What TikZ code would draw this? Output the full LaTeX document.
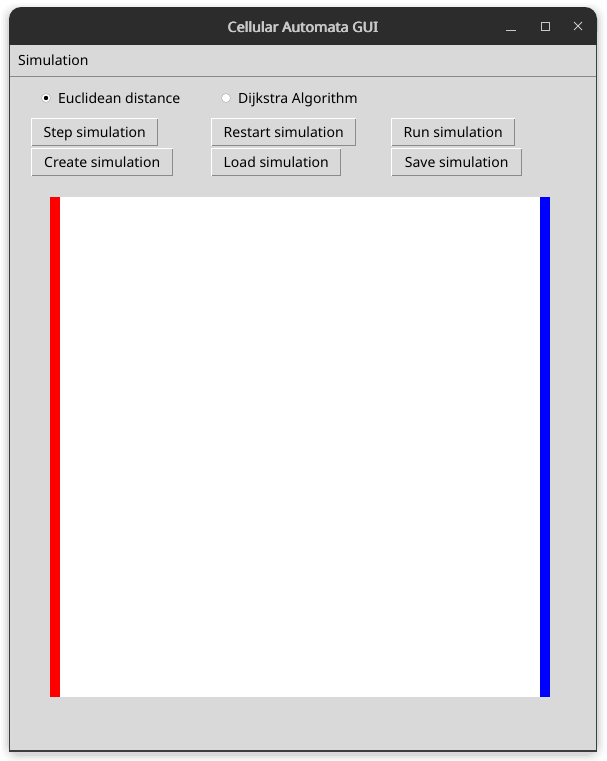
\documentclass[tikz,border=0pt]{standalone}
\usepackage{fontspec}
\setmainfont{Noto Sans}
\begin{document}
\begin{tikzpicture}[x=1pt,y=-1pt,
  every node/.style={inner sep=0pt, font=\fontsize{14pt}{16pt}\selectfont, text=black},
  btn/.style={fill=bodygray, minimum height=28pt, anchor=north west, text height=13pt, text depth=2pt},
  lbl/.style={anchor=base west},
  ttl/.style={anchor=base, font=\fontsize{14.3pt}{16pt}\selectfont, text=titletext}]
\definecolor{bodygray}{HTML}{D9D9D9}
\definecolor{titlebar}{HTML}{2C2C2C}
\definecolor{titletext}{HTML}{C8C8C8}
\definecolor{frame}{HTML}{3E3E3E}
\definecolor{reliefdark}{HTML}{8A8A8A}
\useasboundingbox (0,0) rectangle (607,761);
\fill[white] (0,0) rectangle (607,761);
% shadow
\foreach \d/\o in {8/0.02,6/0.03,4/0.04,2/0.06}{
  \fill[black,opacity=\o,rounded corners=14pt] (9-\d,8-\d+3) rectangle (597+\d,751+\d+3);
}
% window body
\fill[bodygray] (9,40) rectangle (597,751);
\fill[titlebar,rounded corners=12pt] (9,7) rectangle (597,44);
\fill[titlebar] (9,30) rectangle (597,45);
\draw[frame,line width=1.2pt] (9.5,45) -- (9.5,751) -- (596.5,751) -- (596.5,45);
\draw[reliefdark,line width=1pt] (10,76.5) -- (596,76.5);
% title (slightly emboldened by overprinting)
\node[ttl] (title) at (303,32) {Cellular Automata GUI};
\node[ttl] (titleb) at (303.45,32) {Cellular Automata GUI};
\node[ttl] (titlec) at (302.55,32) {Cellular Automata GUI};
\coordinate (minA) at (506,30);
\coordinate (minB) at (516,30);
\draw[titletext,line width=1pt] (minA) -- (minB);
\node[draw=titletext,line width=1pt,minimum size=8pt] (maxbox) at (545,26) {};
\coordinate (xa) at (574,22);
\coordinate (xb) at (582,30);
\coordinate (xc) at (574,30);
\coordinate (xd) at (582,22);
\draw[titletext,line width=1pt] (xa) -- (xb) (xc) -- (xd);
% menu
\node[lbl] (menu) at (18,65) {Simulation};
% radios
\node[circle,fill=white,draw=reliefdark!60,line width=0.6pt,minimum size=9pt] (r1) at (46,98) {};
\fill[black] (r1) circle (2.2pt);
\node[lbl] (r1t) at (58,103) {Euclidean distance};
\node[circle,fill=white,draw=reliefdark!60,line width=0.6pt,minimum size=9pt] (r2) at (226,98) {};
\node[lbl] (r2t) at (238,103) {Dijkstra Algorithm};
% buttons
\node[btn,minimum width=127pt] (b1) at (31,118) {Step simulation};
\node[btn,minimum width=142pt] (b2) at (31,148) {Create simulation};
\node[btn,minimum width=145pt] (b3) at (211,118) {Restart simulation};
\node[btn,minimum width=130pt] (b4) at (211,148) {Load simulation};
\node[btn,minimum width=124pt] (b5) at (391,118) {Run simulation};
\node[btn,minimum width=131pt] (b6) at (391,148) {Save simulation};
\foreach \b in {b1,b2,b3,b4,b5,b6}{
  \draw[white,line width=1pt] ([shift={(0.5,-0.5)}]\b.south west) -- ([shift={(0.5,0.5)}]\b.north west) -- ([shift={(-0.5,0.5)}]\b.north east);
  \draw[reliefdark,line width=1pt] ([shift={(-0.5,0.5)}]\b.north east) -- ([shift={(-0.5,-0.5)}]\b.south east) -- ([shift={(0.5,-0.5)}]\b.south west);
}
% canvas
\fill[white] (50,197) rectangle (550,697);
\fill[red] (50,197) rectangle (60,697);
\fill[blue] (540,197) rectangle (550,697);
\end{tikzpicture}
\end{document}
